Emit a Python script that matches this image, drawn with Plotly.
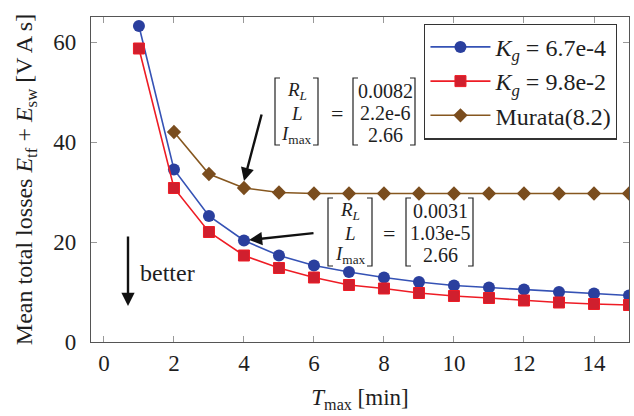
import plotly.graph_objects as go

# ---------------- data ----------------
t_max = [1, 2, 3, 4, 5, 6, 7, 8, 9, 10, 11, 12, 13, 14, 15]
loss_kg_small = [63.2, 34.5, 25.2, 20.3, 17.3, 15.3, 14.0, 12.9, 12.0, 11.3, 10.9, 10.5, 10.0, 9.7, 9.3]
loss_kg_large = [58.7, 30.8, 22.0, 17.3, 14.8, 12.9, 11.4, 10.7, 9.8, 9.2, 8.8, 8.3, 7.9, 7.6, 7.4]
t_murata = [2, 3, 4, 5, 6, 7, 8, 9, 10, 11, 12, 13, 14, 15]
loss_murata = [42.0, 33.6, 30.8, 29.9, 29.7, 29.7, 29.7, 29.7, 29.7, 29.7, 29.7, 29.7, 29.7, 29.7]
x_ticks = [0, 2, 4, 6, 8, 10, 12, 14]
y_ticks = [0, 20, 40, 60]
mat_left = ["<i>R</i><sub><i>L</i></sub>", "<i>L</i>", "<i>I</i><sub>max</sub>"]
mat1_right = ["0.0082", "2.2e-6", "2.66"]
mat2_right = ["0.0031", "1.03e-5", "2.66"]

FONT = "Liberation Serif, Times New Roman, serif"
TXT = "#1e1e1e"
W, H = 634, 416
ML, MR, MT, MB = 91, 5, 17, 74
XR = [-0.37, 15.0]
YR = [0, 65]


def px2x(px):
    return XR[0] + (px - ML) / (W - ML - MR) * (XR[1] - XR[0])


def py2y(py):
    return YR[1] - (py - MT) / (H - MT - MB) * (YR[1] - YR[0])


fig = go.Figure()
fig.add_trace(go.Scatter(
    x=t_max, y=loss_kg_small, mode="lines+markers",
    name="<i>K</i><sub><i>g</i></sub> = 6.7e-4",
    line=dict(color="#3552b5", width=1.6),
    marker=dict(symbol="circle", size=12, color="#2a3f9e", line=dict(width=0))))
fig.add_trace(go.Scatter(
    x=t_max, y=loss_kg_large, mode="lines+markers",
    name="<i>K</i><sub><i>g</i></sub> = 9.8e-2",
    line=dict(color="#ee1c25", width=1.6),
    marker=dict(symbol="square", size=11, color="#d01f2e", line=dict(width=1, color="#ee1c25"))))
fig.add_trace(go.Scatter(
    x=t_murata, y=loss_murata, mode="lines+markers",
    name="Murata(8.2)",
    line=dict(color="#86571f", width=1.6),
    marker=dict(symbol="diamond", size=11, color="#7a4d1e", line=dict(width=0))))

shapes = []


def bracket(x0px, x1px, ytop, ybot, side):
    if side == "l":
        path = f"M {px2x(x1px)},{py2y(ytop)} L {px2x(x0px)},{py2y(ytop)} L {px2x(x0px)},{py2y(ybot)} L {px2x(x1px)},{py2y(ybot)}"
    else:
        path = f"M {px2x(x0px)},{py2y(ytop)} L {px2x(x1px)},{py2y(ytop)} L {px2x(x1px)},{py2y(ybot)} L {px2x(x0px)},{py2y(ybot)}"
    shapes.append(dict(type="path", path=path, xref="x", yref="y",
                       line=dict(color="#222", width=1.2)))


annotations = []


def text_at(px, py, s, size=19):
    annotations.append(dict(x=px2x(px), y=py2y(py), xref="x", yref="y", text=s,
                            showarrow=False, xanchor="center", yanchor="middle",
                            borderpad=0,
                            font=dict(family=FONT, size=size, color=TXT)))


def matrix(lx0, lx1, rx0, rx1, eqx, ytop, ybot, rows_y, right_vals):
    bracket(lx0, lx0 + 5, ytop, ybot, "l")
    bracket(lx1 - 5, lx1, ytop, ybot, "r")
    bracket(rx0, rx0 + 5, ytop, ybot, "l")
    bracket(rx1 - 5, rx1, ytop, ybot, "r")
    for yy, s in zip(rows_y, mat_left):
        text_at((lx0 + lx1) / 2, yy, s)
    text_at(eqx, rows_y[1], "=", 22)
    for yy, s in zip(rows_y, right_vals):
        text_at((rx0 + rx1) / 2 + 1, yy, s, 20)


matrix(275, 318, 353, 415, 337, 78, 145, [91, 113, 135], mat1_right)
matrix(328, 372, 406, 473, 389, 198, 266, [211, 233, 255], mat2_right)

# arrows
for tip, tail in [((244, 181), (262, 113)), ((249, 240), (315, 233)), ((128, 306), (128, 235))]:
    annotations.append(dict(x=px2x(tip[0]), y=py2y(tip[1]), xref="x", yref="y",
                            ax=tail[0] - tip[0], ay=tail[1] - tip[1],
                            showarrow=True, arrowhead=2, arrowsize=1.1, arrowwidth=2.4,
                            arrowcolor="#111", text=""))
text_at(167, 273, "better", 24)

fig.update_layout(
    width=W, height=H,
    margin=dict(l=ML, r=MR, t=MT, b=MB),
    paper_bgcolor="white", plot_bgcolor="white",
    font=dict(family=FONT, size=23, color=TXT),
    showlegend=True,
    legend=dict(x=0.978, y=0.98, xanchor="right", yanchor="top",
                bordercolor="#333", borderwidth=1.3, bgcolor="white",
                font=dict(family=FONT, size=24, color=TXT),
                tracegroupgap=0, itemwidth=60),
    shapes=shapes,
    annotations=annotations,
)
fig.update_xaxes(range=XR, tickvals=x_ticks, ticks="inside", ticklen=6, tickcolor="#999",
                 showline=True, linecolor="#555", linewidth=1.3, mirror="ticks",
                 showgrid=False, zeroline=False,
                 tickfont=dict(family=FONT, size=23, color=TXT),
                 title=dict(text="<i>T</i><sub>max</sub> [min]", standoff=14,
                            font=dict(family=FONT, size=23, color=TXT)))
fig.update_yaxes(range=YR, tickvals=y_ticks, ticks="inside", ticklen=6, tickcolor="#999",
                 showline=True, linecolor="#555", linewidth=1.3, mirror="ticks",
                 showgrid=False, zeroline=False, ticklabelstandoff=9,
                 tickfont=dict(family=FONT, size=23, color=TXT),
                 title=dict(text="Mean total losses <i>E</i><sub>tf</sub> + <i>E</i><sub>sw</sub> [V A s]",
                            standoff=13, font=dict(family=FONT, size=24, color=TXT)))

fig.write_html("out.html", config={"displayModeBar": False},
               post_script="document.body.style.margin='0';")
